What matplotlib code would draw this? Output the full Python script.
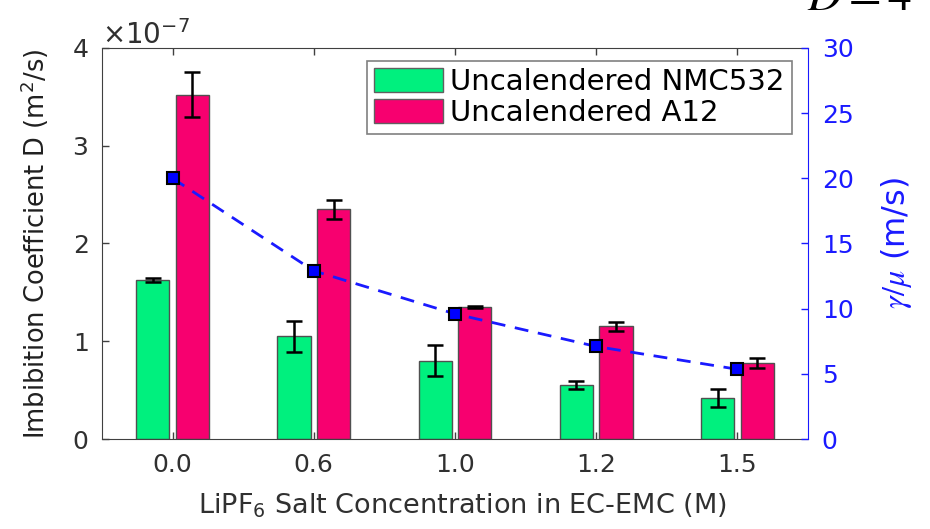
import matplotlib
matplotlib.use("Agg")
import matplotlib.pyplot as plt
import numpy as np
from matplotlib.ticker import ScalarFormatter

plt.rcParams['font.family'] = ['DejaVu Sans']

# LiPF6 concentrations (M) used as categories
conc_labels = ['0.0', '0.6', '1.0', '1.2', '1.5']

# imbibition coefficient D (m^2/s)
d_nmc532 = np.array([1.63, 1.05, 0.80, 0.55, 0.42]) * 1e-7
d_nmc532_err = np.array([0.02, 0.16, 0.16, 0.04, 0.095]) * 1e-7
d_a12 = np.array([3.52, 2.35, 1.35, 1.155, 0.78]) * 1e-7
d_a12_err = np.array([0.23, 0.10, 0.01, 0.045, 0.05]) * 1e-7

# surface tension / viscosity ratio (m/s)
gamma_mu = [20.0, 12.9, 9.6, 7.1, 5.35]

green = '#00F07E'
pink = '#F7006F'
blue = '#1A1AFF'
axis_grey = '#404040'

fig = plt.figure(figsize=(9.3, 5.29), dpi=100)
ax = fig.add_axes([0.1097, 0.1701, 0.7591, 0.7392])

x = np.arange(1, len(conc_labels) + 1)
off = 0.14
w = 0.235
ax.bar(x - off, d_nmc532, w, color=green, edgecolor='#505050', linewidth=1,
       label='Uncalendered NMC532', zorder=2)
ax.bar(x + off, d_a12, w, color=pink, edgecolor='#505050', linewidth=1,
       label='Uncalendered A12', zorder=2)
ax.errorbar(x - off, d_nmc532, yerr=d_nmc532_err, fmt='none', ecolor='black',
            elinewidth=1.8, capsize=6, capthick=1.8, zorder=3)
ax.errorbar(x + off, d_a12, yerr=d_a12_err, fmt='none', ecolor='black',
            elinewidth=1.8, capsize=6, capthick=1.8, zorder=3)

ax.set_xlim(0.5, 5.5)
ax.set_ylim(0, 4e-7)
ax.set_yticks(np.arange(0, 4.1, 1) * 1e-7)
ax.set_xticks(x)
ax.set_xticklabels(conc_labels)

fmt = ScalarFormatter(useMathText=True)
fmt.set_powerlimits((0, 0))
ax.yaxis.set_major_formatter(fmt)
ax.yaxis.get_offset_text().set_fontsize(20)
ax.yaxis.get_offset_text().set_color('#303030')

ax.tick_params(axis='both', direction='in', length=5, width=1, colors=axis_grey,
               labelsize=18, labelcolor='#303030', top=True, pad=10)
for side in ['left', 'bottom', 'top']:
    ax.spines[side].set_color(axis_grey)
ax.spines['right'].set_visible(False)

ax.set_ylabel(r'Imbibition Coefficient D (m$^2$/s)', fontsize=18.5, color='#202020')
ax.yaxis.set_label_coords(-0.072, 0.5)
ax.set_xlabel(r'LiPF$_6$ Salt Concentration in EC-EMC (M)', fontsize=19.5,
              color='#303030')
ax.xaxis.set_label_coords(0.51, -0.135)

leg = ax.legend(loc='upper right', bbox_to_anchor=(0.977, 0.967), fontsize=21,
                frameon=True, fancybox=False, edgecolor='#606060',
                handlelength=2.35, handleheight=0.85, handletextpad=0.25,
                borderpad=0.25, labelspacing=0.1, borderaxespad=0)
leg.get_frame().set_linewidth(1.2)
for h in leg.legend_handles:
    h.set_edgecolor('#606060')

# right axis: gamma/mu with dashed connecting line
ax2 = ax.twinx()
ax2.plot(x, gamma_mu, linestyle=(0, (5, 3.5)), color=blue, linewidth=2,
         marker='s', markersize=9, markerfacecolor='#0000FF',
         markeredgecolor='black', markeredgewidth=1.5, zorder=4)
ax2.set_ylim(0, 30)
ax2.set_yticks(np.arange(0, 31, 5))
ax2.tick_params(axis='y', direction='in', length=5, width=1, colors=blue,
                labelsize=18, labelcolor=blue, pad=10)
for side in ['left', 'bottom', 'top']:
    ax2.spines[side].set_visible(False)
ax2.spines['right'].set_color(blue)
ax2.set_ylabel(r'$\gamma/\mu$ (m/s)', fontsize=23, color=blue,
               math_fontfamily='stix')
ax2.yaxis.set_label_coords(1.1, 0.5)

# fragment of an equation from the surrounding page
fig.text(0.868, 1 - 10 / 529, r'$D = 4$', fontsize=34, va='baseline',
         math_fontfamily='stix', color='black')

fig.savefig('out.png', dpi=100)
